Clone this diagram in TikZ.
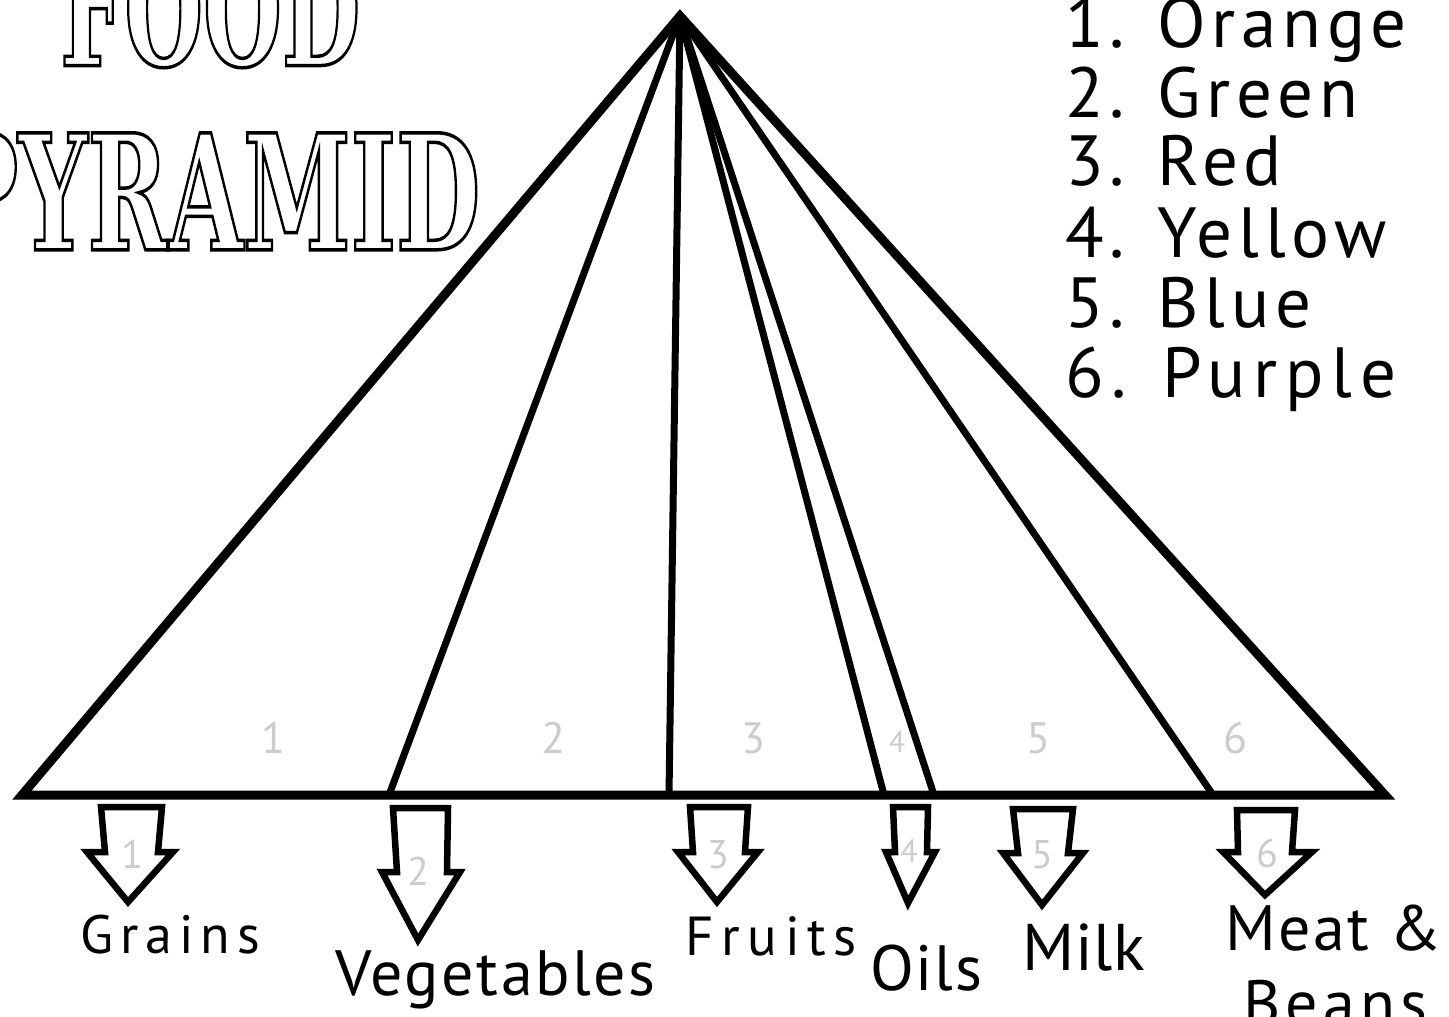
\documentclass[tikz,border=0pt]{standalone}
\usepackage{fontspec}
\usepackage{graphicx}
\setmainfont{PT Sans}
\newfontfamily\titlefont{DejaVu Serif Condensed}
\definecolor{numgray}{HTML}{CCCCCC}
\newcommand\strokedtext[2]{\special{pdf:literal direct #1 w 1 Tr}#2\special{pdf:literal direct 0 Tr}}
\newcommand\lsfont[2]{\fontsize{#1}{#1}\selectfont\addfontfeatures{LetterSpace=#2}}
\begin{document}
\begin{tikzpicture}[x=1pt,y=-1pt,
  outline/.style={line width=9pt, line join=miter, miter limit=10},
  divider/.style={line width=7pt},
  blockarrow/.style={line width=6.5pt, line join=miter, miter limit=10},
  graynum/.style={text=numgray, inner sep=0, font=\fontsize{44}{44}\selectfont},
  smallnum/.style={text=numgray, inner sep=0, font=\fontsize{40}{40}\selectfont},
  lbl/.style={anchor=base west, inner sep=0},
  titletext/.style={anchor=south west, inner sep=0},
]
\fill[white] (0,0) rectangle (1449,1017);
\useasboundingbox (0,0) rectangle (1449,1017);

% title
\node[titletext] (food) at (60,68) {\resizebox{300pt}{117pt}{\fontsize{160}{160}\titlefont\bfseries\strokedtext{3.5}{FOOD}}};
\node[titletext] (pyramid) at (-55,250) {\resizebox{535pt}{117pt}{\fontsize{160}{160}\titlefont\bfseries\strokedtext{3.5}{PYRAMID}}};

% pyramid
\coordinate (apex) at (680,16);
\coordinate (bl) at (22,795);
\coordinate (br) at (1385,795);
\coordinate (b1) at (389,795);
\coordinate (b2) at (669,795);
\coordinate (b3) at (884,795);
\coordinate (b4) at (934,795);
\coordinate (b5) at (1213,795);
\foreach \b in {b1,b2,b3,b4,b5} \draw[divider] (apex) -- (\b);
\draw[outline] (apex) -- (bl) -- (br) -- cycle;

% section numbers
\node[graynum] (n1) at (273,738) {1};
\node[graynum] (n2) at (553,738) {2};
\node[graynum] (n3) at (753,738) {3};
\node[text=numgray, inner sep=0, font=\fontsize{30}{30}\selectfont] (n4) at (897,742) {4};
\node[graynum] (n5) at (1038,738) {5};
\node[graynum] (n6) at (1235,738) {6};

% arrows
\draw[blockarrow] (101,807) -- (162,807) -- (158,852) -- (173,852) -- (128,902) -- (87,852) -- (105,852) -- cycle;
\draw[blockarrow] (393,808) -- (448,808) -- (447,872) -- (460,872) -- (418,940) -- (382,872) -- (397,872) -- cycle;
\draw[blockarrow] (690,807) -- (748,807) -- (745,852) -- (758,852) -- (717,902) -- (678,852) -- (693,852) -- cycle;
\draw[blockarrow] (893,807) -- (928,807) -- (927,852) -- (935,852) -- (908,903) -- (886,852) -- (895,852) -- cycle;
\draw[blockarrow] (1013,809) -- (1073,809) -- (1068,853) -- (1083,853) -- (1042,905) -- (1003,853) -- (1018,853) -- cycle;
\draw[blockarrow] (1237,810) -- (1295,810) -- (1292,852) -- (1312,852) -- (1265,895) -- (1223,852) -- (1238,852) -- cycle;

% arrow numbers
\node[smallnum] (a1) at (132,854) {1};
\node[smallnum] (a2) at (418,871) {2};
\node[smallnum] (a3) at (718,855) {3};
\node[text=numgray, inner sep=0, font=\fontsize{32}{32}\selectfont] (a4) at (909,851) {4};
\node[smallnum] (a5) at (1042,855) {5};
\node[smallnum] (a6) at (1267,853) {6};

% labels
\node[lbl, font=\lsfont{54}{13}] (grains) at (80,953) {Grains};
\node[lbl, font=\lsfont{64}{4}] (veg) at (335,995) {Vegetables};
\node[lbl, font=\lsfont{55}{14}] (fruits) at (685,955) {Fruits};
\node[lbl, font=\lsfont{64}{3}] (oils) at (870,990) {Oils};
\node[lbl, font=\lsfont{66}{1}] (milk) at (1022,970) {Milk};
\node[lbl, font=\lsfont{64}{4}] (meat) at (1225,950) {Meat \&};
\node[lbl, font=\lsfont{64}{8}] (beans) at (1243,1025) {Beans};

% legend
\begin{scope}[every node/.style={lbl, font=\lsfont{71}{8}}]
\node (l1) at (1065,47) {1. Orange};
\node (l2) at (1065,117) {2. Green};
\node (l3) at (1065,185) {3. Red};
\node (l4) at (1065,257) {4. Yellow};
\node (l5) at (1065,327) {5. Blue};
\node[font=\lsfont{71}{11}] (l6) at (1065,397) {6. Purple};
\end{scope}
\end{tikzpicture}
\end{document}
